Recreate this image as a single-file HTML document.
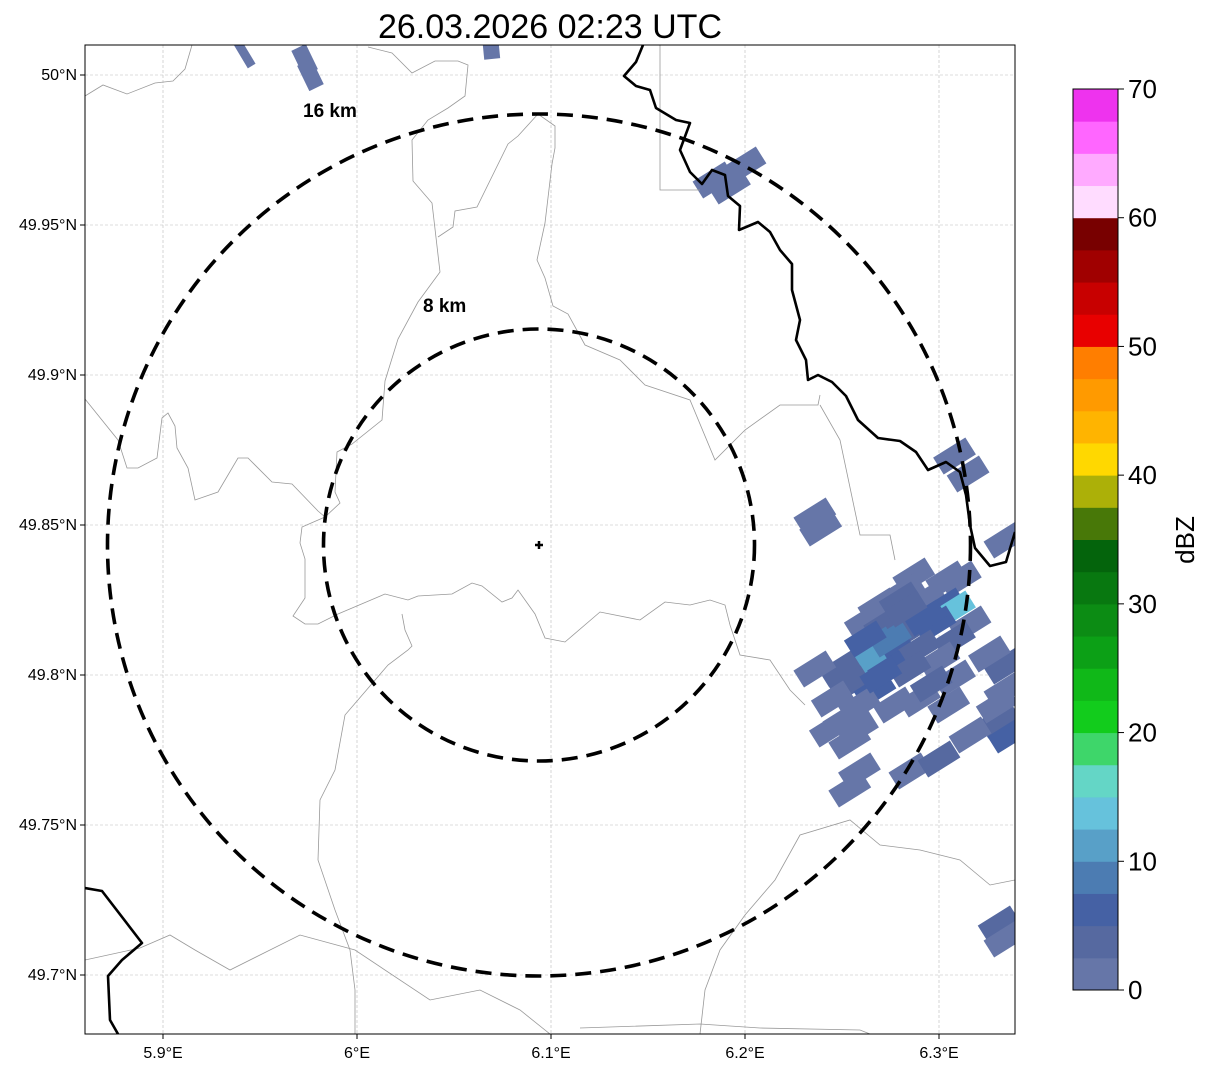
<!DOCTYPE html>
<html><head><meta charset="utf-8"><style>
body{margin:0;background:#fff;}
svg{display:block;font-family:"Liberation Sans","DejaVu Sans",sans-serif;}
</style></head><body>
<svg id="chart" width="1207" height="1069" viewBox="0 0 1207 1069">
<defs><clipPath id="mapclip"><rect x="85" y="45" width="930" height="989"/></clipPath></defs>
<text x="550" y="38" font-size="34" text-anchor="middle">26.03.2026 02:23 UTC</text>
<g id="grid"></g>
<g clip-path="url(#mapclip)">
 <g id="cells"></g>
 <g fill="none" stroke="#999" stroke-width="0.8">
  <polyline points="85,96 103,85 127,94 155,83 173,81 185,69 192,45"/>
  <polyline points="368,47 392,53 412,73 435,61 458,61 468,65 465,96 448,108 428,120 412,140 413,181 432,203 440,272 418,302 398,339 385,381 382,420 352,444 337,452 335,492 340,503 325,517 302,527 300,543 305,559 305,598 293,616 305,624 318,624 338,614 385,594 408,600 418,596 452,594 472,583 482,586 502,602 512,598 518,590 535,614 545,638 565,642 600,612 640,620 665,602 690,605 710,600 725,605 730,625 740,655 770,660 790,690 805,705"/>
  <polyline points="438,237 453,227 455,211 477,207 508,144 518,136 538,114 555,126 555,148 552,164 545,223 537,260 545,278 553,306 568,314 585,345 620,360 645,385 690,400 715,460 745,430 780,405 818,405 820,395"/>
  <polyline points="85,399 118,440 127,468 138,468 157,458 162,418 168,413 175,426 177,448 188,468 195,500 218,492 238,458 248,458 272,482 292,484 318,511 325,517"/>
  <polyline points="402,614 405,630 412,646 408,650 388,665 345,715 335,770 320,800 318,860 335,910 350,950 355,990 355,1034"/>
  <polyline points="85,960 140,948 170,935 195,950 230,970 270,950 300,935 355,950 430,1000 480,990 520,1010 550,1034"/>
  <polyline points="580,1028 700,1024 760,1028 860,1030 870,1034"/>
  <polyline points="700,1034 705,990 720,950 745,915 775,880 800,835 850,820 880,845 920,850 960,860 990,885 1015,880"/>
  <polyline points="660,45 660,190 700,190"/>
  <polyline points="820,405 840,440 860,535 890,535 895,560"/>
 </g>
 <g fill="none" stroke="#000" stroke-width="2.6" stroke-linejoin="round">
  <polyline points="643,45 636,62 624,76 636,86 650,90 656,108 676,120 690,123 680,150 690,172 702,184 712,170 725,175 728,196 740,206 739,230 758,222 770,232 780,250 792,264 792,290 800,320 796,340 806,360 808,380 818,375 832,382 846,396 858,420 878,438 900,441 916,452 928,470 946,462 960,472 966,495 970,525 975,548 990,566 1006,562 1015,532"/>
  <polyline points="85,888 102,891 142,943 122,960 108,976 110,1020 118,1034"/>
 </g>
 <g fill="none" stroke="#000" stroke-width="3.6" stroke-dasharray="16,9">
  <ellipse cx="539" cy="545" rx="431.5" ry="431"/>
  <ellipse cx="539" cy="545" rx="215.5" ry="216"/>
 </g>
 <path d="M535,545 H543 M539,541 V549" stroke="#000" stroke-width="2.5"/>
 <text x="303" y="117" font-size="19" font-weight="bold">16 km</text>
 <text x="423" y="312" font-size="19" font-weight="bold">8 km</text>
</g>
<rect x="85" y="45" width="930" height="989" fill="none" stroke="#000" stroke-width="1"/>
<g id="axes" font-size="16"></g>
<g id="cbar"></g>
<text transform="translate(1194,540) rotate(-90)" font-size="26" text-anchor="middle">dBZ</text>
</svg>
<script>
const lonTicks=[5.9,6.0,6.1,6.2,6.3];
const lonLabels=["5.9°E","6°E","6.1°E","6.2°E","6.3°E"];
const latTicks=[50.0,49.95,49.9,49.85,49.8,49.75,49.7];
const latLabels=["50°N","49.95°N","49.9°N","49.85°N","49.8°N","49.75°N","49.7°N"];
const cellLon=[5.942,5.973,5.976,6.069,6.200,6.184,6.192,6.308,6.315,6.236,6.239,6.334,6.287,6.282,6.304,6.311,6.269,6.280,6.293,6.303,6.308,6.316,6.262,6.272,6.285,6.298,6.308,6.267,6.277,6.290,6.300,6.259,6.264,6.274,6.285,6.308,6.249,6.236,6.254,6.267,6.277,6.290,6.305,6.259,6.251,6.244,6.254,6.259,6.285,6.300,6.254,6.334,6.334,6.331,6.316,6.336,6.326,6.331,6.334,6.275,6.293,6.283,6.262,6.270,6.296,6.258,6.245,6.330];
const cellLat=[50.007,50.005,50.000,50.010,49.970,49.965,49.963,49.873,49.867,49.853,49.849,49.845,49.833,49.828,49.832,49.832,49.823,49.825,49.825,49.823,49.822,49.817,49.818,49.817,49.815,49.817,49.812,49.810,49.808,49.809,49.805,49.805,49.803,49.802,49.802,49.799,49.802,49.802,49.797,49.795,49.790,49.792,49.790,49.790,49.785,49.782,49.778,49.768,49.768,49.772,49.762,49.803,49.795,49.785,49.780,49.780,49.807,49.717,49.712,49.812,49.819,49.822,49.812,49.800,49.797,49.782,49.792,49.790];
const cellDbz=[1,1,2,1,2,1,1,1,1,1,1,1,1,1,1,1,2,3,2,7,13,2,2,3,4,6,3,8,5,3,2,10,12,6,3,1,3,1,3,5,1,2,2,2,2,1,2,2,2,3,1,3,2,3,1,5,1,4,2,9,5,4,6,7,3,2,1,2];
const cbarTicks=[0,10,20,30,40,50,60,70];
const cbarColors=["#6676a8","#5669a0","#4561a4","#4c7cb2","#58a0c8","#66c2dc","#64d6c6","#3ed66a","#12cc1c","#10b818","#0ca016","#0c8c14","#087810","#04640c","#487808","#acb008","#ffd800","#ffb400","#ff9a00","#ff7e00","#e80000","#c80000","#a00000","#780000","#ffdcff","#ffaaff","#ff66ff","#ee33ee"];
const NS="http://www.w3.org/2000/svg";
const X=lon=>357+(lon-6)*1940;
const Y=lat=>525-(lat-49.85)*3000;
const CB=v=>990-v*(901/70);
function mk(tag,attrs,parent){const e=document.createElementNS(NS,tag);for(const k in attrs)e.setAttribute(k,attrs[k]);parent.appendChild(e);return e;}
const grid=document.getElementById('grid'),axes=document.getElementById('axes');
lonTicks.forEach((t,i)=>{const x=X(t);
 const l=mk('line',{x1:x,x2:x,y1:45,y2:1034,stroke:'#bbb','stroke-width':0.6,'stroke-dasharray':'3,2'},grid);
 
 
 const tk=mk('line',{x1:x,x2:x,y1:1034,y2:1039,stroke:'#000'},axes);
 
 
 const tx=mk('text',{x:x,y:1058,'text-anchor':'middle'},axes);tx.textContent=lonLabels[i];
 
 });
latTicks.forEach((t,i)=>{const y=Y(t);
 const l=mk('line',{x1:85,x2:1015,y1:y,y2:y,stroke:'#bbb','stroke-width':0.6,'stroke-dasharray':'3,2'},grid);
 
 
 const tk=mk('line',{x1:80,x2:85,y1:y,y2:y,stroke:'#000'},axes);
 
 
 const tx=mk('text',{x:77,y:y+5,'text-anchor':'end'},axes);tx.textContent=latLabels[i];
 
 });
function colorFor(v){const i=Math.max(0,Math.min(cbarColors.length-1,Math.floor(v/2.5)));return cbarColors[i];}
const cells=document.getElementById('cells');
cellLon.forEach((lon,i)=>{const x=X(lon),y=Y(cellLat[i]);
 let w,h,rot;
 if(lon<6.15){w=(i===0?9:16);h=28;rot=Math.atan2(x-539,545-y)*180/Math.PI;}
 else{w=38;h=20;rot=-32;}
 const r=mk('rect',{x:x-w/2,y:y-h/2,width:w,height:h,fill:colorFor(cellDbz[i]),transform:`rotate(${rot} ${x} ${y})`},cells);
 
 });
const cbar=document.getElementById('cbar');
cbarColors.forEach((c,i)=>{const v0=i*2.5,v1=v0+2.5;
 const r=mk('rect',{x:1073,y:CB(v1),width:45,height:CB(v0)-CB(v1)+0.5,fill:c},cbar);
 
 });
mk('rect',{x:1073,y:CB(70),width:45,height:CB(0)-CB(70),fill:'none',stroke:'#000','stroke-width':1},cbar);
cbarTicks.forEach(t=>{const y=CB(t);
 const tk=mk('line',{x1:1118,x2:1124,y1:y,y2:y,stroke:'#000'},cbar);
 
 
 const tx=mk('text',{x:1128,y:y+9,'font-size':26},cbar);tx.textContent=t;
 
 });
</script>
</body></html>
